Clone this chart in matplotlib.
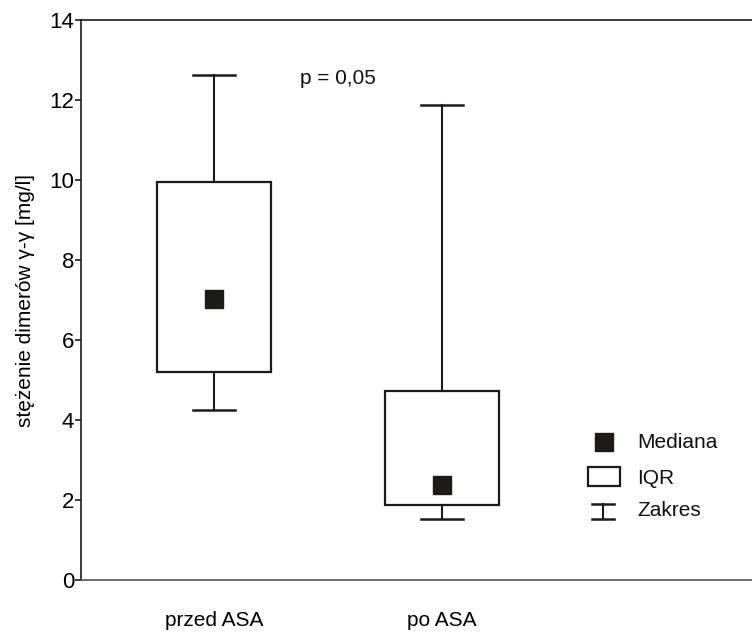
import matplotlib
matplotlib.use("Agg")
import matplotlib.pyplot as plt
from matplotlib.patches import Rectangle

plt.rcParams['font.family'] = ['Liberation Sans', 'DejaVu Sans']

# data
groups = ['przed ASA', 'po ASA']
medians = [7.02, 2.37]
q1 = [5.2, 1.88]
q3 = [9.95, 4.72]
whis_lo = [4.25, 1.52]
whis_hi = [12.62, 11.87]
p_text = 'p = 0,05'

ink = '#1e1a18'

fig = plt.figure(figsize=(7.52, 6.35), dpi=100)
ax = fig.add_axes([0.1077, 0.0866, 0.8923, 0.8819])

stats = []
for i in range(len(groups)):
    stats.append({'med': medians[i], 'q1': q1[i], 'q3': q3[i],
                  'whislo': whis_lo[i], 'whishi': whis_hi[i],
                  'fliers': [], 'label': groups[i]})

pos = [1, 2]
ax.bxp(stats, positions=pos, widths=0.5, capwidths=0.185,
       showfliers=False, patch_artist=True,
       boxprops=dict(facecolor='white', edgecolor=ink, linewidth=1.6),
       whiskerprops=dict(color=ink, linewidth=1.5),
       capprops=dict(color=ink, linewidth=1.8),
       medianprops=dict(visible=False))
ax.plot(pos, medians, 's', color=ink, markersize=13, zorder=5)

ax.text(1.377, 12.55, p_text, fontsize=15, va='center', ha='left', color='#111111')

ax.set_xlim(0.417, 3.36)
ax.set_ylim(0, 14)
ax.set_yticks(range(0, 15, 2))
ax.set_xticks(pos)
ax.set_xticklabels(groups, fontsize=15)
ax.tick_params(axis='x', length=0, pad=22)
ax.tick_params(axis='y', labelsize=16, length=4, width=1.2, pad=1, color=ink)
ax.set_ylabel('stężenie dimerów γ-γ [mg/l]', fontsize=15, labelpad=10)

ax.spines['right'].set_visible(False)
ax.spines['top'].set_color(ink)
ax.spines['top'].set_linewidth(1.2)
ax.spines['left'].set_color(ink)
ax.spines['left'].set_linewidth(1.2)
ax.spines['bottom'].set_color('#555555')
ax.spines['bottom'].set_linewidth(1.2)

# legend drawn by hand in axes fraction
def fx(px):
    return (px - 81) / 671.0

def fy(py):
    return (580 - py) / 560.0

tr = ax.transAxes
ax.plot([fx(604)], [fy(442)], 's', color=ink, markersize=13, transform=tr, clip_on=False)
ax.add_patch(Rectangle((fx(588), fy(486)), fx(620) - fx(588), fy(467) - fy(486),
                       facecolor='white', edgecolor=ink, linewidth=1.6, transform=tr))
ax.plot([fx(603), fx(603)], [fy(504), fy(519)], color=ink, lw=1.5, transform=tr)
ax.plot([fx(592), fx(614)], [fy(504), fy(504)], color=ink, lw=1.8, transform=tr)
ax.plot([fx(592), fx(614)], [fy(519), fy(519)], color=ink, lw=1.8, transform=tr)
for label, py in [('Mediana', 442), ('IQR', 478), ('Zakres', 510)]:
    ax.text(fx(637), fy(py), label, fontsize=15, va='center', ha='left',
            transform=tr, color='#111111')

fig.savefig('out.png', dpi=100)
